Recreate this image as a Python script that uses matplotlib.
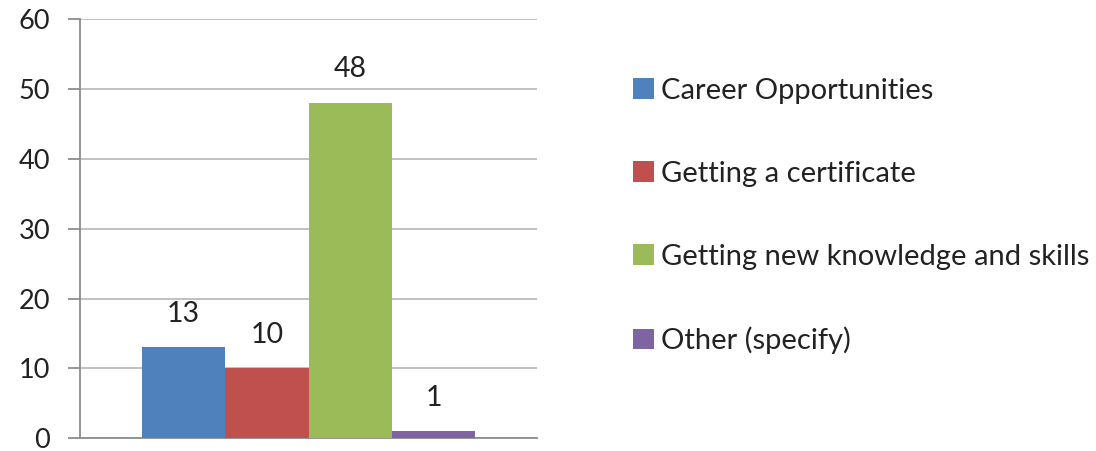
import matplotlib
matplotlib.use("Agg")
import matplotlib.pyplot as plt
from matplotlib.patches import Patch

categories = ["Career Opportunities", "Getting a certificate",
              "Getting new knowledge and skills", "Other (specify)"]
values = [13, 10, 48, 1]
colors = ["#4F81BD", "#C0504D", "#9BBB59", "#8064A2"]
yticks = [0, 10, 20, 30, 40, 50, 60]

plt.rcParams['font.family'] = ['Lato', 'DejaVu Sans']

fig = plt.figure(figsize=(10.96, 4.51), dpi=100)
ax = fig.add_axes([0.073, 0.028, 0.417, 0.930])

w = 0.1823
n = len(values)
for i, (v, c) in enumerate(zip(values, colors)):
    x = (i - (n - 1) / 2) * w
    ax.bar(x, v, width=w, color=c, zorder=3)
    ax.annotate(str(v), (x, v), xytext=(0, 15), textcoords="offset points",
                ha="center", va="bottom", fontsize=20.5, color="#222222")

ax.set_xlim(-0.5, 0.5)
ax.set_ylim(0, 60)
ax.set_yticks(yticks)
ax.set_yticklabels([str(t) for t in yticks], fontsize=19.5, color="#222222")
ax.set_xticks([])
ax.yaxis.grid(True, color="#bcbcbc", linewidth=1.3, zorder=0)
for s in ["top", "right"]:
    ax.spines[s].set_visible(False)
for s in ["left", "bottom"]:
    ax.spines[s].set_color("#8c8c8c")
    ax.spines[s].set_linewidth(1.3)
ax.tick_params(axis="y", length=8.6, width=1.3, color="#8c8c8c", pad=13)

handles = [Patch(facecolor=c, edgecolor="none") for c in colors]
fig.legend(handles, categories, loc="center left", bbox_to_anchor=(0.554, 0.521),
           frameon=False, fontsize=21, labelspacing=1.95, handlelength=0.7,
           handleheight=0.7, handletextpad=0.25, labelcolor="#222222")

fig.savefig("out.png", dpi=100)
